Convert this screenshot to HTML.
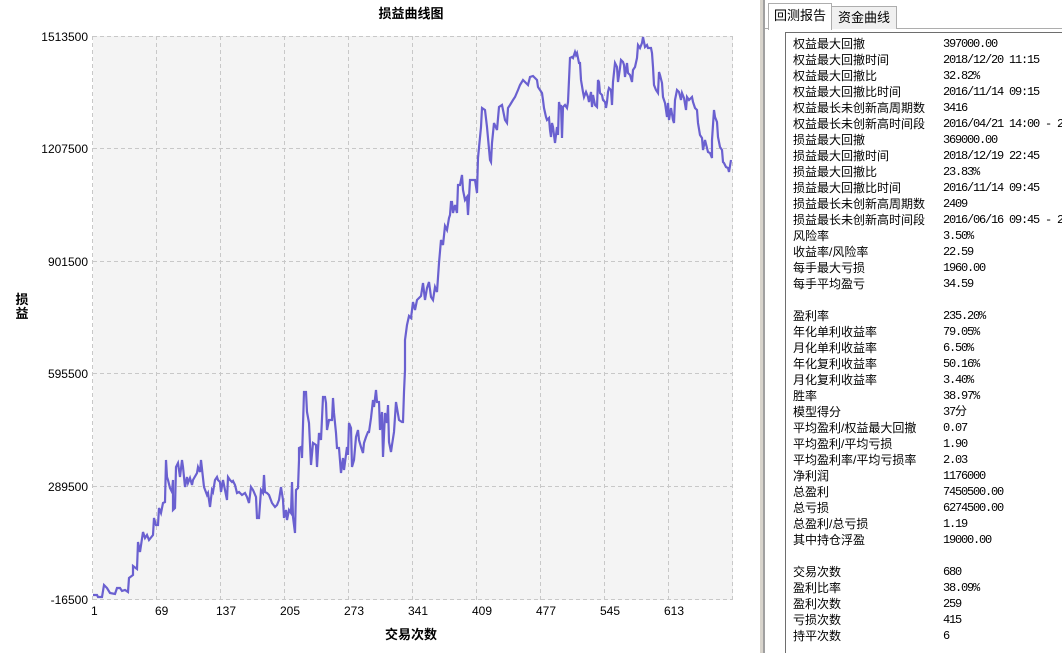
<!DOCTYPE html>
<html><head><meta charset="utf-8">
<style>
html,body{margin:0;padding:0;width:1062px;height:653px;overflow:hidden;background:#fff;font-family:"Liberation Sans","Noto Sans CJK SC",sans-serif;}
#chart{position:absolute;left:0;top:0;}
#panel{position:absolute;left:760px;top:0;width:302px;height:653px;background:#fff;overflow:hidden;}
.tab{position:absolute;font-size:13px;color:#000;border:1px solid #adadad;border-bottom:none;background:#fff;text-align:center;}
.rows{position:absolute;left:33px;top:36px;font-size:12px;line-height:16px;color:#000;white-space:nowrap;}
.rows div{height:16px;position:relative;}
.rows span.v{position:absolute;left:150px;top:0;font-family:"Liberation Mono","Noto Sans CJK SC",monospace;font-size:12px;letter-spacing:-1.2px;}
</style></head><body>
<svg id="chart" width="760" height="653" xmlns="http://www.w3.org/2000/svg">
<rect x="93" y="36" width="640" height="564" fill="#f4f4f4"/>
<g stroke="#c8c8c8" stroke-width="1" stroke-dasharray="4,3" fill="none">
<line x1="93" y1="36.5" x2="733" y2="36.5"/><line x1="93" y1="148.5" x2="733" y2="148.5"/><line x1="93" y1="261.5" x2="733" y2="261.5"/><line x1="93" y1="373.5" x2="733" y2="373.5"/><line x1="93" y1="486.5" x2="733" y2="486.5"/><line x1="93" y1="599.5" x2="733" y2="599.5"/>
<line x1="92.5" y1="36" x2="92.5" y2="600"/><line x1="156.5" y1="36" x2="156.5" y2="600"/><line x1="220.5" y1="36" x2="220.5" y2="600"/><line x1="284.5" y1="36" x2="284.5" y2="600"/><line x1="348.5" y1="36" x2="348.5" y2="600"/><line x1="412.5" y1="36" x2="412.5" y2="600"/><line x1="476.5" y1="36" x2="476.5" y2="600"/><line x1="540.5" y1="36" x2="540.5" y2="600"/><line x1="604.5" y1="36" x2="604.5" y2="600"/><line x1="668.5" y1="36" x2="668.5" y2="600"/><line x1="732.5" y1="36" x2="732.5" y2="600"/>
</g>
<polyline fill="none" stroke="#6a60d0" stroke-width="2.2" points="93,595 97,595 98,597 102,597 104,585 107,588 110,593 115,594 117,588 120,588 122,591 125,590 128,592 129,578 133,575 133,566 137,569 138,542 140,552 143,532 145,538 147,535 149,540 153,535 154,518 156,525 158,525 159,508 161,513 163,503 165,502 166,460 167,477 168,480 170,488 172,492 173,480 173,510 175,508 176,467 178,463 180,477 182,460 183,467 185,487 187,477 188,483 190,478 192,485 193,480 197,473 198,467 200,472 201,460 203,478 204,487 207,495 208,493 210,507 212,490 213,492 215,480 217,477 218,480 220,482 221,492 223,480 227,500 228,477 230,480 232,482 233,481 235,485 237,493 239,492 242,495 245,493 247,497 249,503 251,487 253,490 256,497 257,518 259,518 261,490 263,493 264,475 265,492 267,493 269,495 272,503 275,507 277,505 279,500 281,487 283,500 284,518 286,510 287,520 289,510 291,513 292,482 293,517 295,533 296,490 298,488 299,460 299,448 301,447 302,458 304,392 306,392 307,412 309,423 311,465 313,443 316,445 317,467 319,433 321,440 323,397 325,397 326,403 327,430 329,420 332,420 333,398 334,413 336,433 337,448 339,448 341,473 343,458 344,470 347,447 348,455 349,423 351,428 352,467 354,460 356,437 358,430 359,440 361,447 363,453 364,443 366,437 368,432 369,432 371,418 373,400 374,407 376,390 377,402 379,402 380,430 382,412 383,457 385,413 387,423 388,405 389,442 391,452 392,445 394,432 396,402 397,408 399,420 402,422 403,422 404,392 405,370 405,340 407,325 409,316 411,318 413,302 415,310 417,300 419,298 421,296 423,283 425,300 427,288 429,282 431,297 433,300 435,287 437,292 439,263 441,240 443,245 445,226 447,230 449,218 450,215 451,202 452,202 453,213 455,205 457,213 458,185 460,185 462,175 463,190 465,200 467,197 468,215 470,180 472,180 475,180 477,193 478,158 481,127 482,108 485,110 487,127 488,138 490,160 491,162 492,143 494,123 497,130 499,107 502,105 505,120 507,123 508,108 510,105 513,100 515,97 518,90 520,85 523,80 526,83 528,85 530,77 533,76 535,78 537,80 538,87 540,90 542,93 543,100 544,108 546,117 547,120 549,118 550,130 551,137 552,123 553,127 555,143 557,127 558,135 559,102 560,107 561,105 562,138 563,107 565,105 567,108 568,102 570,58 572,57 573,58 575,52 576,55 577,53 579,63 580,63 581,80 583,92 584,97 586,92 588,97 589,102 591,92 592,107 593,95 595,105 597,107 598,80 599,82 600,93 602,95 603,100 605,102 606,108 607,102 608,92 609,88 611,90 612,105 613,82 615,63 617,67 618,82 620,68 621,60 623,62 624,65 625,77 627,63 628,73 630,75 632,82 633,70 635,67 637,58 638,45 640,48 642,43 643,37 645,47 647,45 648,48 651,48 652,53 653,67 654,85 656,90 658,93 659,72 660,75 662,83 663,97 665,103 667,117 668,103 669,120 671,108 673,120 674,123 675,100 677,90 679,92 681,100 682,93 684,98 686,110 687,97 689,100 692,97 693,102 695,108 697,110 698,123 700,135 702,138 703,150 705,140 707,148 708,152 710,153 712,158 712,140 714,110 715,117 717,122 718,137 720,147 722,150 723,162 724,163 726,167 728,168 729,172 731,160"/>
<g font-size="12" fill="#000" text-anchor="end">
<text x="88" y="41">1513500</text><text x="88" y="153">1207500</text><text x="88" y="266">901500</text><text x="88" y="378">595500</text><text x="88" y="491">289500</text><text x="88" y="604">-16500</text>
</g>
<g font-size="12" fill="#000">
<text x="91" y="615">1</text><text x="155" y="615">69</text><text x="216" y="615">137</text><text x="280" y="615">205</text><text x="344" y="615">273</text><text x="408" y="615">341</text><text x="472" y="615">409</text><text x="536" y="615">477</text><text x="600" y="615">545</text><text x="664" y="615">613</text>
</g>
<text x="411" y="18" font-size="13" font-weight="bold" text-anchor="middle" font-family="Liberation Sans,Noto Sans CJK SC,sans-serif">损益曲线图</text>
<text x="411" y="639" font-size="13" font-weight="bold" text-anchor="middle" font-family="Liberation Sans,Noto Sans CJK SC,sans-serif">交易次数</text>
<text x="22" y="304" font-size="13" font-weight="bold" text-anchor="middle">损</text>
<text x="22" y="318" font-size="13" font-weight="bold" text-anchor="middle">益</text>
</svg>
<div id="panel">
<div style="position:absolute;left:0;top:0;width:3px;height:653px;background:#d8d4cc"></div>
<div style="position:absolute;left:3px;top:0;width:2px;height:653px;background:#a0a0a0"></div>
<div style="position:absolute;left:5px;top:28px;width:297px;height:1px;background:#adadad"></div>
<div class="tab" style="left:8px;top:3px;width:62px;height:26px;line-height:24px;z-index:2">回测报告</div>
<div class="tab" style="left:71px;top:6px;width:64px;height:22px;line-height:22px;background:#f0f0f0">资金曲线</div>
<div style="position:absolute;left:25px;top:32px;width:277px;height:621px;border-left:1px solid #6e6e6e;border-top:1px solid #6e6e6e"></div>
<div class="rows"><div>权益最大回撤<span class="v">397000.00</span></div><div>权益最大回撤时间<span class="v">2018/12/20 11:15</span></div><div>权益最大回撤比<span class="v">32.82%</span></div><div>权益最大回撤比时间<span class="v">2016/11/14 09:15</span></div><div>权益最长未创新高周期数<span class="v">3416</span></div><div>权益最长未创新高时间段<span class="v">2016/04/21 14:00 - 2</span></div><div>损益最大回撤<span class="v">369000.00</span></div><div>损益最大回撤时间<span class="v">2018/12/19 22:45</span></div><div>损益最大回撤比<span class="v">23.83%</span></div><div>损益最大回撤比时间<span class="v">2016/11/14 09:45</span></div><div>损益最长未创新高周期数<span class="v">2409</span></div><div>损益最长未创新高时间段<span class="v">2016/06/16 09:45 - 2</span></div><div>风险率<span class="v">3.50%</span></div><div>收益率/风险率<span class="v">22.59</span></div><div>每手最大亏损<span class="v">1960.00</span></div><div>每手平均盈亏<span class="v">34.59</span></div><div></div><div>盈利率<span class="v">235.20%</span></div><div>年化单利收益率<span class="v">79.05%</span></div><div>月化单利收益率<span class="v">6.50%</span></div><div>年化复利收益率<span class="v">50.16%</span></div><div>月化复利收益率<span class="v">3.40%</span></div><div>胜率<span class="v">38.97%</span></div><div>模型得分<span class="v">37分</span></div><div>平均盈利/权益最大回撤<span class="v">0.07</span></div><div>平均盈利/平均亏损<span class="v">1.90</span></div><div>平均盈利率/平均亏损率<span class="v">2.03</span></div><div>净利润<span class="v">1176000</span></div><div>总盈利<span class="v">7450500.00</span></div><div>总亏损<span class="v">6274500.00</span></div><div>总盈利/总亏损<span class="v">1.19</span></div><div>其中持仓浮盈<span class="v">19000.00</span></div><div></div><div>交易次数<span class="v">680</span></div><div>盈利比率<span class="v">38.09%</span></div><div>盈利次数<span class="v">259</span></div><div>亏损次数<span class="v">415</span></div><div>持平次数<span class="v">6</span></div></div>
</div>
</body></html>
